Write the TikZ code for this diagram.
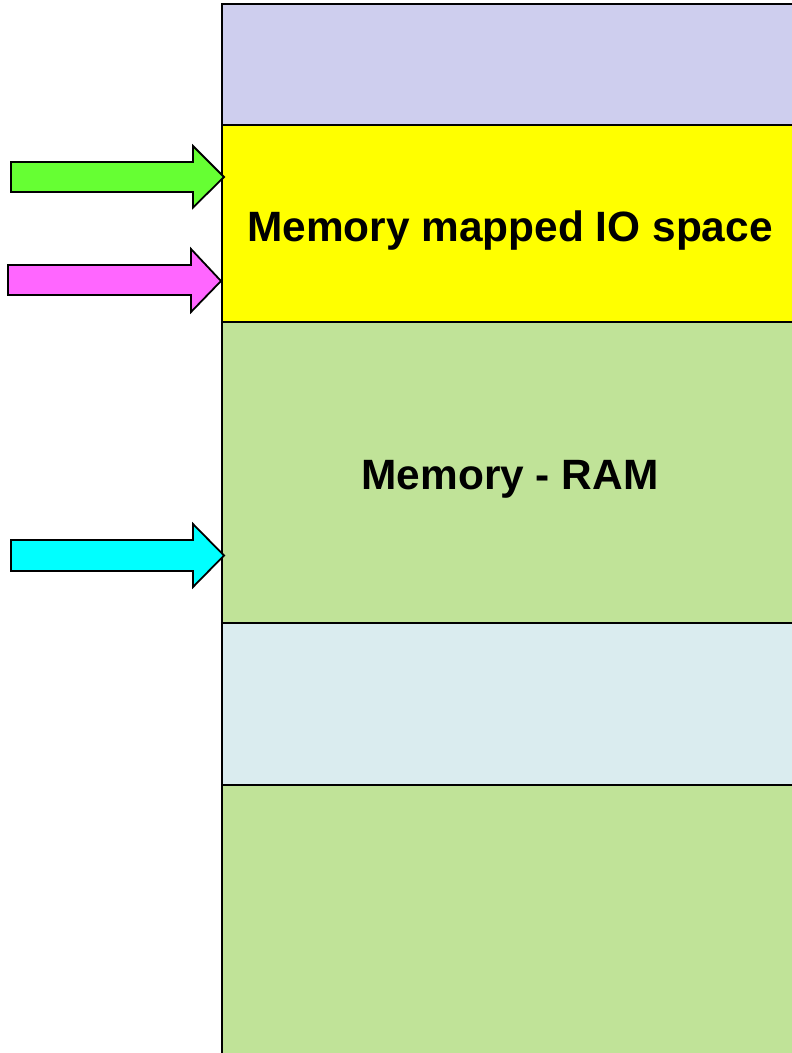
\documentclass[tikz,border=0pt]{standalone}
\usepackage{fontspec}
\setmainfont{Liberation Sans}
\definecolor{bandlav}{RGB}{206,206,238}
\definecolor{bandyel}{RGB}{255,255,0}
\definecolor{bandgrn}{RGB}{192,227,152}
\definecolor{bandblu}{RGB}{218,236,239}
\definecolor{arrgrn}{RGB}{102,255,51}
\definecolor{arrmag}{RGB}{255,102,255}
\definecolor{arrcyn}{RGB}{0,255,255}
\tikzset{
  band/.style={draw=black, line width=2pt, rectangle, anchor=north west,
    minimum width=576pt, inner sep=0pt, outer sep=0pt},
  ptr/.style={draw=black, line width=1.8pt, line join=miter},
  lbl/.style={anchor=base, inner sep=0pt,
    font=\fontsize{42.4}{48}\selectfont\bfseries}
}
\begin{document}
\begin{tikzpicture}[x=1pt, y=-1pt]
  \useasboundingbox (0,0) rectangle (792,1053);
  \begin{scope}
    \clip (0,0) rectangle (792,1053);
    % memory map bands, top to bottom
    \node[band, fill=bandlav, minimum height=121pt]   (top)  at (222,4)     {};
    \node[band, fill=bandyel, minimum height=197pt]   (mmio) at (222,125)   {};
    \node[band, fill=bandgrn, minimum height=300.7pt] (ram)  at (222,322)   {};
    \node[band, fill=bandblu, minimum height=161.8pt] (gap)  at (222,622.7) {};
    \node[band, fill=bandgrn, minimum height=290pt]   (low)  at (222,784.5) {};
    % band labels
    \node[lbl] (mmiotext) at (510,241.5) {Memory mapped IO space};
    \node[lbl] (ramtext)  at (510,489.5) {Memory - RAM};
    % pointer arrows
    \coordinate (tipA) at (224,177);
    \coordinate (tipB) at (221,281);
    \coordinate (tipC) at (224,555.5);
    \draw[ptr, fill=arrgrn] (11,162) -- (193,162) -- (193,146) -- (tipA)
      -- (193,207.5) -- (193,192) -- (11,192) -- cycle;
    \draw[ptr, fill=arrmag] (8,265) -- (191,265) -- (191,249) -- (tipB)
      -- (191,312) -- (191,295) -- (8,295) -- cycle;
    \draw[ptr, fill=arrcyn] (11,540) -- (193,540) -- (193,524) -- (tipC)
      -- (193,587) -- (193,571) -- (11,571) -- cycle;
  \end{scope}
\end{tikzpicture}
\end{document}
